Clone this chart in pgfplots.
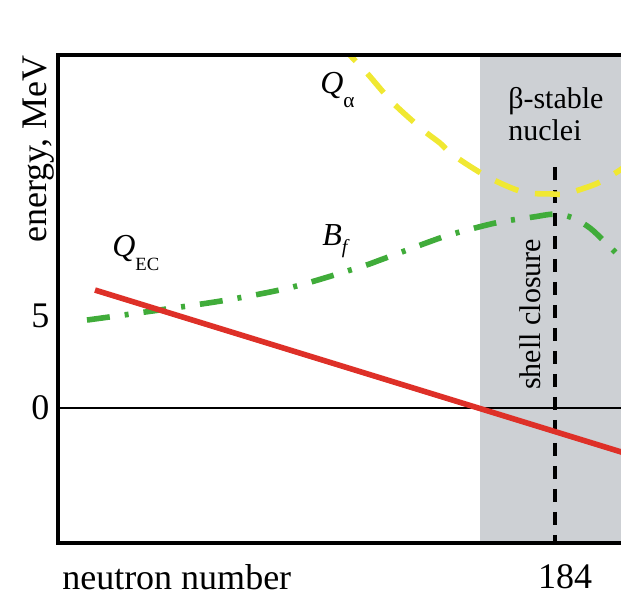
\documentclass[border=0pt]{standalone}
\usepackage{pgfplots}
\pgfplotsset{compat=1.18}
\usepackage{fontspec}
\setmainfont{Liberation Serif}

\definecolor{qec}{RGB}{222,48,40}
\definecolor{bf}{RGB}{64,172,58}
\definecolor{qa}{RGB}{240,232,50}
\definecolor{stablegray}{RGB}{205,208,212}

\begin{document}
\begin{tikzpicture}[x=0.75pt,y=-0.75pt]
\useasboundingbox (0,0) rectangle (621,596);
\clip (0,0) rectangle (621,596);
\begin{axis}[
  at={(43.5pt,-407.25pt)}, anchor=south west,
  scale only axis, width=462.75pt, height=366pt,
  xmin=134.3, xmax=196, ymin=-7.337, ymax=19.185,
  axis line style={line width=2.4pt},
  xtick={184}, ytick={0,5},
  major tick length=0pt,
  ticklabel style={font=\fontsize{27}{32}\selectfont},
  /pgf/number format/assume math mode=true,
  xticklabel style={inner sep=0pt, xshift=7.5pt, yshift=-15.8pt},
  yticklabel style={xshift=-3pt},
  axis on top,
  clip=true,
]
% region of beta-stable nuclei
\fill[stablegray] (axis cs:176.5,-20) rectangle (axis cs:210,30);

% zero energy level
\addplot[black, line width=1.8pt] coordinates {(134.3,0) (200,0)};

% shell closure at N = 184
\addplot[black, line width=2.3pt, dash pattern=on 9.75pt off 7.5pt]
  coordinates {(184,13.1) (184,-7.337)};

% alpha-decay energy
\addplot[qa, line width=4.2pt, smooth, dash pattern=on 18.75pt off 12.75pt]
  coordinates {(162.5,19.9) (163.5,19.18) (165.2,18.2) (167.8,16.58) (170.8,15.11)
    (172.5,14.40) (173.8,13.75) (177.3,12.55) (180.8,11.74) (183.8,11.63)
    (185.0,11.63) (187.0,11.96) (188.5,12.28) (190.5,12.93) (192,13.5)};

% fission barrier
\addplot[bf, line width=4.2pt, smooth,
  dash pattern=on 17.25pt off 11.25pt on 3pt off 11.25pt]
  coordinates {(137.2,4.78) (144.5,5.33) (151.2,5.87) (157.8,6.58) (164.5,7.66)
    (166.8,8.10) (172.5,9.24) (175.2,9.67) (178.5,10.11) (181.8,10.38)
    (184.0,10.54) (185.8,10.33) (187.5,9.78) (189.0,9.02) (190.5,8.21) (192,7.4)};

% electron-capture energy
\addplot[qec, line width=4.2pt] coordinates {(138,6.41) (192,-2.62)};
\end{axis}

\node[anchor=base west, inner sep=0, font=\fontsize{24}{24}\selectfont] at (112,256)
  {\textit{Q}\raisebox{-10.5pt}{\fontsize{14}{14}\selectfont EC}};
\node[anchor=base west, inner sep=0, font=\fontsize{24}{24}\selectfont] at (320,93)
  {\textit{Q}\raisebox{-10.5pt}{\fontsize{16}{16}\selectfont α}};
\node[anchor=base west, inner sep=0, font=\fontsize{24}{24}\selectfont] at (322,245)
  {\textit{B}\raisebox{-6pt}{\fontsize{15}{15}\selectfont\itshape f}};

\node[anchor=base west, inner sep=0, font=\fontsize{22.5}{24}\selectfont] at (508,108) {β-stable};
\node[anchor=base west, inner sep=0, font=\fontsize{22.5}{24}\selectfont] at (508,140) {nuclei};
\node[anchor=base west, inner sep=0, rotate=90, font=\fontsize{22.5}{24}\selectfont] at (540,390) {shell closure};

\node[anchor=base west, inner sep=0, rotate=90, font=\fontsize{27}{32}\selectfont] at (46,243) {energy, MeV};
\node[anchor=base west, inner sep=0, font=\fontsize{27}{32}\selectfont] at (62,589) {neutron number};
\end{tikzpicture}
\end{document}
